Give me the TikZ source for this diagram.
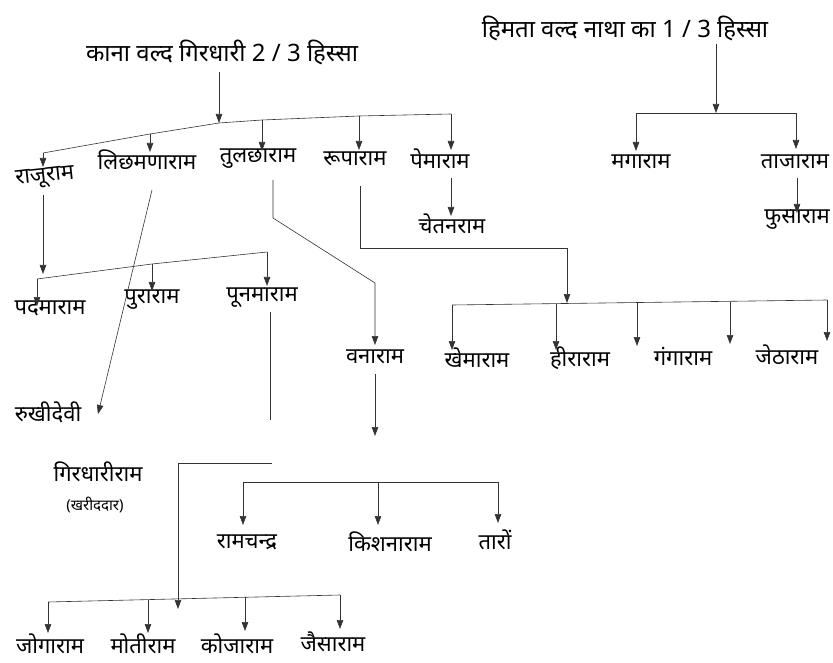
\documentclass[tikz,border=0pt]{standalone}
\usepackage{fontspec}
\setmainfont{Noto Sans}[Script=Devanagari]
\usetikzlibrary{arrows.meta}
\tikzset{
  lbl/.style={inner sep=1pt, font=\fontsize{22}{24}\selectfont},
  hdr/.style={inner sep=1pt, font=\fontsize{24}{26}\selectfont},
  small/.style={inner sep=1pt, font=\fontsize{15}{17}\selectfont},
  con/.style={draw=black!80, line width=0.6pt},
  arr/.style={con, -{Triangle[width=6.5pt,length=9pt]}},
}
\begin{document}
\begin{tikzpicture}[x=1pt,y=-1pt]
\useasboundingbox (0,0) rectangle (833,663);
% headings
\node[hdr] (h1) at (222,52) {काना वल्द गिरधारी 2 / 3 हिस्सा};
\node[hdr] (h2) at (625,28) {हिमता वल्द नाथा का 1 / 3 हिस्सा};
% row 1
\node[lbl, rotate=6] (raju) at (45,178) {राजूराम};
\node[lbl] (lich) at (147,160) {लिछमणाराम};
\node[lbl] (tul) at (258,159) {तुलछाराम};
\node[lbl] (rupa) at (355,159) {रूपाराम};
\node[lbl] (pema) at (440,159) {पेमाराम};
\node[lbl] (maga) at (641,162) {मगाराम};
\node[lbl] (taja) at (795,162) {ताजाराम};
\node[lbl] (chet) at (452,224) {चेतनराम};
\node[lbl] (fusa) at (797,220) {फुसाराम};
% row 2
\node[lbl] (padma) at (50,308) {पदमाराम};
\node[lbl] (pura) at (152,300) {पुराराम};
\node[lbl] (poon) at (262,298) {पूनमाराम};
\node[lbl] (vana) at (375,357) {वनाराम};
\node[lbl] (khem) at (477,358) {खेमाराम};
\node[lbl] (heera) at (580,358) {हीराराम};
\node[lbl] (ganga) at (683,357) {गंगाराम};
\node[lbl] (jetha) at (787,355) {जेठाराम};
\node[lbl] (rukhi) at (48,412) {रुखीदेवी};
% lower part
\node[lbl] (gird) at (98,472) {गिरधारीराम};
\node[small] (khar) at (95,505) {(खरीददार)};
\node[lbl] (ramc) at (247,542) {रामचन्द्र};
\node[lbl] (kish) at (390,542) {किशनाराम};
\node[lbl] (taro) at (495,540) {तारों};
\node[lbl] (joga) at (50,644) {जोगाराम};
\node[lbl] (moti) at (143,644) {मोतीराम};
\node[lbl] (koja) at (237,644) {कोजाराम};
\node[lbl] (jaisa) at (333,642) {जैसाराम};

% ---- left tree, first generation
\coordinate (a0) at (219,72);
\coordinate (b1) at (43,153);
\coordinate (b2) at (150,134);
\coordinate (b3) at (219,123);
\coordinate (b4) at (262,120);
\coordinate (b5) at (359,116);
\coordinate (b6) at (451,114);
\draw[arr] (a0) -- (b3);
\draw[con] (b1) -- (b2) -- (b3) -- (b4) -- (b5) -- (b6);
\draw[arr] (b1) -- (43,167);
\draw[arr] (b2) -- (150,152);
\draw[arr] (b4) -- (262,151);
\draw[arr] (b5) -- (359,150);
\draw[arr] (b6) -- (451,150);
% ---- right tree
\coordinate (c0) at (716,44);
\coordinate (c1) at (636,113);
\coordinate (c2) at (716,113);
\coordinate (c3) at (796,113);
\draw[arr] (c0) -- (c2);
\draw[con] (c1) -- (c3);
\draw[arr] (c1) -- (636,151);
\draw[arr] (c3) -- (796,149);
\draw[arr] (797,178) -- (797,213);
\draw[arr] (451,178) -- (451,216);
% ---- Raju's children
\draw[arr] (43,195) -- (43,274);
\coordinate (d1) at (37,279);
\coordinate (d2) at (152,264);
\coordinate (d3) at (267,252);
\draw[con] (d1) -- (d2) -- (d3);
\draw[arr] (d1) -- (37,306);
\draw[arr] (d2) -- (152,291);
\draw[arr] (d3) -- (267,286);
\draw[con] (270,312) -- (270,420);
% ---- Lichhmanaram to Rukhi
\draw[arr] (152,190) -- (98,414);
% ---- Tulchharam to Vanaram
\draw[arr] (273,180) -- (273,218) -- (375,283) -- (375,345);
\draw[arr] (375,374) -- (375,436);
% ---- Ruparam's children
\draw[arr] (360,186) -- (360,248) -- (567,248) -- (567,303);
\coordinate (e1) at (452,305);
\coordinate (e5) at (827,300);
\draw[con] (e1) -- (e5);
\draw[arr] (e1) -- (452,350);
\draw[arr] (556,304) -- (556,350);
\draw[arr] (637,303) -- (637,346);
\draw[arr] (730,302) -- (730,344);
\draw[arr] (e5) -- (827,341);
% ---- Girdhariram's children
\draw[arr] (272,463) -- (178,463) -- (178,609);
\coordinate (f1) at (48,602);
\coordinate (f4) at (340,595);
\draw[con] (f1) -- (f4);
\draw[arr] (f1) -- (48,633);
\draw[arr] (148,600) -- (148,633);
\draw[arr] (245,597) -- (245,631);
\draw[arr] (f4) -- (340,629);
% ---- Vanaram's children
\coordinate (g1) at (243,482);
\coordinate (g3) at (498,482);
\draw[con] (g1) -- (g3);
\draw[arr] (g1) -- (243,525);
\draw[arr] (378,482) -- (378,525);
\draw[arr] (g3) -- (498,523);
\end{tikzpicture}
\end{document}
